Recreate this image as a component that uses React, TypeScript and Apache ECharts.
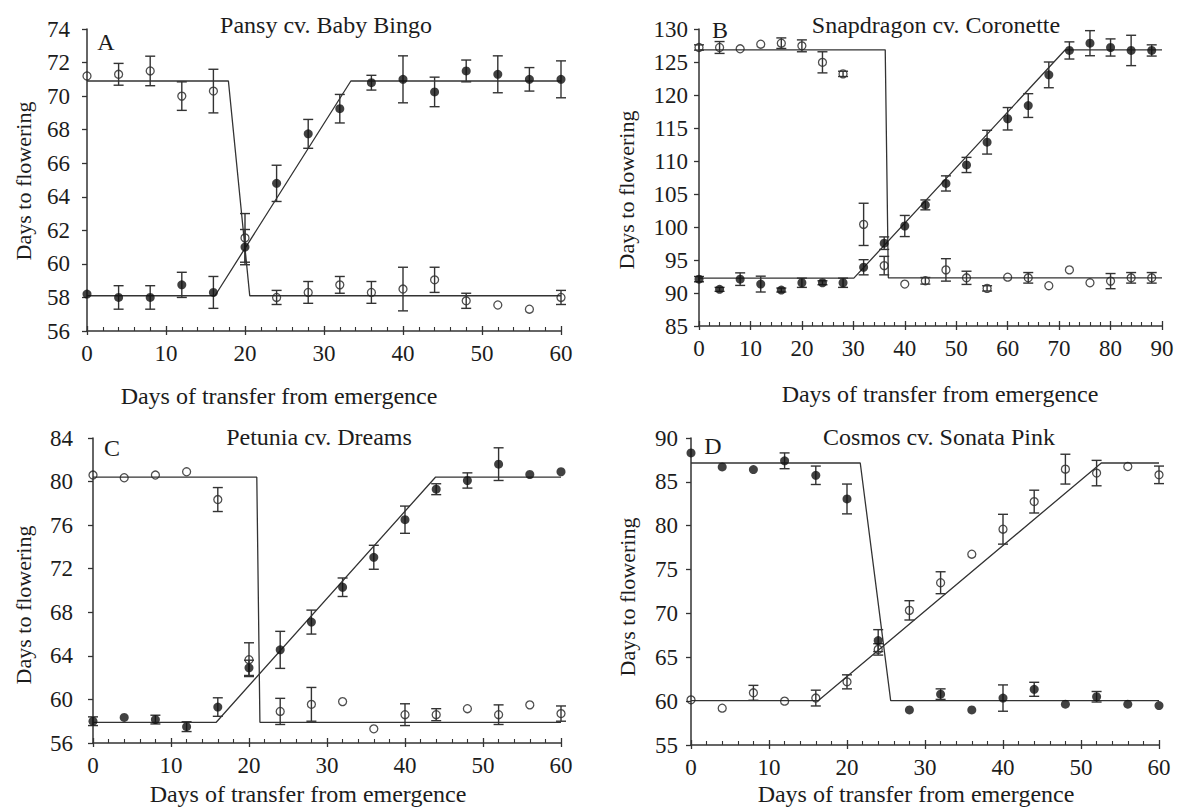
import React, { useEffect, useRef } from "react";
import * as echarts from "echarts";

// ---------- Data ----------
const days60 = [0, 4, 8, 12, 16, 20, 24, 28, 32, 36, 40, 44, 48, 52, 56, 60];
const days90 = [0, 4, 8, 12, 16, 20, 24, 28, 32, 36, 40, 44, 48, 52, 56, 60, 64, 68, 72, 76, 80, 84, 88];

// Panel A - Pansy cv. Baby Bingo
const aOpen = [71.2, 71.3, 71.5, 70.0, 70.3, 61.55, 58.0, 58.3, 58.75, 58.3, 58.5, 59.05, 57.8, 57.55, 57.3, 58.0];
const aOpenErr = [null, 0.65, 0.88, 0.85, 1.3, 1.45, 0.42, 0.65, 0.5, 0.65, 1.3, 0.75, 0.45, null, null, 0.42];
const aFilled = [58.2, 58.0, 58.0, 58.75, 58.3, 61.0, 64.8, 67.75, 69.25, 70.8, 71.0, 70.25, 71.5, 71.3, 71.0, 71.0];
const aFilledErr = [null, 0.7, 0.7, 0.75, 0.95, 1.05, 1.08, 0.86, 0.85, 0.44, 1.4, 0.88, 0.65, 1.1, 0.7, 1.1];
const aOpenFit = [[0, 70.9], [17.9, 70.9], [20.6, 58.1], [60, 58.1]];
const aFilledFit = [[0, 58.1], [16.2, 58.1], [33.4, 70.9], [60, 70.9]];

// Panel B - Snapdragon cv. Coronette
const bOpen = [127.2, 127.2, 127.0, 127.7, 127.85, 127.45, 124.95, 123.2, 100.4, 94.15, 91.35, 91.85, 93.5, 92.3, 90.7, 92.4, 92.3, 91.1, 93.5, 91.55, 91.8, 92.3, 92.3];
const bOpenErr = [0.4, 0.9, null, null, 0.8, 0.9, 1.6, 0.4, 3.2, 1.4, null, 0.5, 1.7, 1.0, 0.4, null, 0.8, null, null, null, 1.15, 0.8, 0.8];
const bFilled = [92.1, 90.55, 92.1, 91.35, 90.45, 91.55, 91.55, 91.55, 93.9, 97.55, 100.15, 103.35, 106.6, 109.4, 112.85, 116.4, 118.4, 123.05, 126.75, 127.85, 127.2, 126.75, 126.75];
const bFilledErr = [0.4, 0.3, 0.95, 1.2, 0.3, 0.7, 0.3, 0.7, 1.15, 0.95, 1.6, 0.75, 1.15, 1.15, 1.8, 1.7, 1.8, 1.95, 1.3, 1.9, 1.3, 2.3, 0.85];
const bOpenFit = [[0, 126.85], [36.2, 126.85], [36.8, 92.3], [90, 92.3]];
const bFilledFit = [[0, 92.25], [30.1, 92.25], [71.2, 126.85], [90, 126.85]];

// Panel C - Petunia cv. Dreams
const cOpen = [80.6, 80.35, 80.6, 80.9, 78.35, 63.65, 58.9, 59.55, 59.8, 57.3, 58.6, 58.6, 59.15, 58.6, 59.5, 58.7];
const cOpenErr = [null, null, null, null, 1.1, 1.55, 1.2, 1.55, null, null, 1.0, 0.55, null, 0.9, null, 0.7];
const cFilled = [58.0, 58.35, 58.15, 57.5, 59.3, 62.9, 64.55, 67.1, 70.3, 73.05, 76.5, 79.3, 80.1, 81.6, 80.65, 80.9];
const cFilledErr = [0.4, null, 0.4, 0.45, 0.85, 0.7, 1.7, 1.1, 0.85, 1.1, 1.25, 0.5, 0.7, 1.5, null, null];
const cOpenFit = [[0, 80.4], [21.0, 80.4], [21.4, 57.9], [60, 57.9]];
const cFilledFit = [[0, 57.9], [15.8, 57.9], [43.9, 80.4], [60, 80.4]];

// Panel D - Cosmos cv. Sonata Pink
const dOpen = [60.15, 59.2, 60.95, 60.0, 60.35, 62.2, 65.9, 70.35, 73.5, 76.75, 79.6, 82.75, 86.45, 86.0, 86.75, 85.8];
const dOpenErr = [null, null, 0.85, null, 0.9, 0.8, 0.65, 1.1, 1.25, null, 1.7, 1.3, 1.7, 1.45, null, 1.0];
const dFilled = [88.3, 86.7, 86.4, 87.4, 85.75, 83.05, 66.9, 59.0, 60.8, 59.0, 60.35, 61.35, 59.65, 60.5, 59.65, 59.5];
const dFilledErr = [null, null, null, 0.9, 1.05, 1.7, 1.25, null, 0.6, null, 1.5, 0.8, null, 0.6, null, null];
const dOpenFit = [[0, 60.05], [16.3, 60.05], [52.6, 87.15], [60, 87.15]];
const dFilledFit = [[0, 87.15], [21.7, 87.15], [25.6, 60.05], [60, 60.05]];

const titles = ["Pansy cv. Baby Bingo", "Snapdragon cv. Coronette", "Petunia cv. Dreams", "Cosmos cv. Sonata Pink"];
const letters = ["A", "B", "C", "D"];
const yTitle = "Days to flowering";
const xTitle = "Days of transfer from emergence";

// ---------- Layout / style ----------
const FONT = "'Liberation Serif', 'Times New Roman', serif";
const INK = "#1c1c1c";
const LINE = "#333333";

const panels = [
  {
    days: days60, open: aOpen, openErr: aOpenErr, filled: aFilled, filledErr: aFilledErr,
    openFit: aOpenFit, filledFit: aFilledFit,
    xMax: 60, yMin: 56, yMax: 74, yStep: 2, labelMargin: 17,
    grid: { left: 87, top: 29, width: 474, height: 302 },
    titlePos: [326, 25], letterPos: [106, 42], yTitlePos: [23, 181], xTitlePos: [279, 396],
  },
  {
    days: days90, open: bOpen, openErr: bOpenErr, filled: bFilled, filledErr: bFilledErr,
    openFit: bOpenFit, filledFit: bFilledFit,
    xMax: 90, yMin: 85, yMax: 130, yStep: 5, labelMargin: 11,
    grid: { left: 699, top: 29, width: 463, height: 297 },
    titlePos: [936, 25], letterPos: [720, 30], yTitlePos: [626, 190], xTitlePos: [940, 394],
  },
  {
    days: days60, open: cOpen, openErr: cOpenErr, filled: cFilled, filledErr: cFilledErr,
    openFit: cOpenFit, filledFit: cFilledFit,
    xMax: 60, yMin: 56, yMax: 84, yStep: 4, labelMargin: 20,
    grid: { left: 93, top: 438, width: 468, height: 305 },
    titlePos: [319, 437], letterPos: [112, 448], yTitlePos: [23, 605], xTitlePos: [308, 794],
  },
  {
    days: days60, open: dOpen, openErr: dOpenErr, filled: dFilled, filledErr: dFilledErr,
    openFit: dOpenFit, filledFit: dFilledFit,
    xMax: 60, yMin: 55, yMax: 90, yStep: 5, labelMargin: 13,
    grid: { left: 691, top: 438, width: 468, height: 307 },
    titlePos: [939, 437], letterPos: [713, 446], yTitlePos: [627, 597], xTitlePos: [916, 794],
  },
];

function errRender(params: any, api: any) {
  const x = api.value(0);
  const y = api.value(1);
  const e = api.value(2);
  const p1 = api.coord([x, y + e]);
  const p2 = api.coord([x, y - e]);
  const w = 5;
  const style = { stroke: LINE, lineWidth: 1.4 };
  return {
    type: "group",
    children: [
      { type: "line", shape: { x1: p1[0], y1: p1[1], x2: p2[0], y2: p2[1] }, style },
      { type: "line", shape: { x1: p1[0] - w, y1: p1[1], x2: p1[0] + w, y2: p1[1] }, style },
      { type: "line", shape: { x1: p2[0] - w, y1: p2[1], x2: p2[0] + w, y2: p2[1] }, style },
    ],
  };
}

function pairs(xs: number[], ys: number[]) {
  return xs.map((x, i) => [x, ys[i]]);
}
function errTriples(xs: number[], ys: number[], es: (number | null)[]) {
  const out: number[][] = [];
  xs.forEach((x, i) => {
    const e = es[i];
    if (e !== null && e !== undefined) out.push([x, ys[i], e]);
  });
  return out;
}

function buildOption() {
  const grid: any[] = [];
  const xAxis: any[] = [];
  const yAxis: any[] = [];
  const series: any[] = [];
  const graphic: any[] = [];

  panels.forEach((p, i) => {
    grid.push({ ...p.grid });
    xAxis.push({
      type: "value", gridIndex: i, min: 0, max: p.xMax, interval: 10,
      axisLine: { show: true, onZero: false, lineStyle: { color: LINE, width: 1.5 } },
      axisTick: { show: true, inside: true, length: 5, lineStyle: { color: LINE, width: 1.3 } },
      minorTick: { show: true, splitNumber: 5, length: 4, lineStyle: { color: LINE, width: 1.1 } },
      axisLabel: { show: true, margin: 11, fontFamily: FONT, fontSize: 23, color: INK },
      splitLine: { show: false },
      minorSplitLine: { show: false },
    });
    yAxis.push({
      type: "value", gridIndex: i, min: p.yMin, max: p.yMax, interval: p.yStep,
      axisLine: { show: true, onZero: false, lineStyle: { color: LINE, width: 1.5 } },
      axisTick: { show: true, inside: false, length: 5, lineStyle: { color: LINE, width: 1.3 } },
      axisLabel: { show: true, margin: p.labelMargin, fontFamily: FONT, fontSize: 23, color: INK },
      splitLine: { show: false },
    });
  });
  panels.forEach((p, i) => {
    xAxis.push({
      type: "value", gridIndex: i, min: 0, max: p.xMax, interval: 10, position: "bottom",
      axisLine: { show: false },
      axisTick: { show: true, inside: false, length: 4, lineStyle: { color: LINE, width: 1.3 } },
      axisLabel: { show: false },
      splitLine: { show: false },
    });
  });

  panels.forEach((p, i) => {
    series.push({
      type: "line", xAxisIndex: i, yAxisIndex: i, data: p.openFit, symbol: "none",
      lineStyle: { color: LINE, width: 1.3 }, z: 2, silent: true,
    });
    series.push({
      type: "line", xAxisIndex: i, yAxisIndex: i, data: p.filledFit, symbol: "none",
      lineStyle: { color: LINE, width: 1.3 }, z: 2, silent: true,
    });
    series.push({
      type: "scatter", xAxisIndex: i, yAxisIndex: i, data: pairs(p.days, p.open),
      symbol: "circle", symbolSize: 8,
      itemStyle: { color: "rgba(255,255,255,0)", borderColor: "#222", borderWidth: 1.3 }, z: 3,
    });
    series.push({
      type: "custom", xAxisIndex: i, yAxisIndex: i, renderItem: errRender,
      data: errTriples(p.days, p.open, p.openErr), z: 4, silent: true,
    });
    series.push({
      type: "custom", xAxisIndex: i, yAxisIndex: i, renderItem: errRender,
      data: errTriples(p.days, p.filled, p.filledErr), z: 4, silent: true,
    });
    series.push({
      type: "scatter", xAxisIndex: i, yAxisIndex: i, data: pairs(p.days, p.filled),
      symbol: "circle", symbolSize: 9, itemStyle: { color: "#111" }, z: 5,
    });

    const txt = (text: string, pos: number[], size: number, rot = 0) => ({
      type: "text", x: pos[0], y: pos[1], rotation: rot, z: 10,
      style: {
        text, fontFamily: FONT, fontSize: size, fill: INK,
        textAlign: "center", textVerticalAlign: "middle", align: "center", verticalAlign: "middle",
      },
    });
    graphic.push(txt(titles[i], p.titlePos, 24));
    graphic.push(txt(letters[i], p.letterPos, 24));
    graphic.push(txt(yTitle, p.yTitlePos, 22, Math.PI / 2));
    graphic.push(txt(xTitle, p.xTitlePos, 24));
  });

  return { animation: false, backgroundColor: "#ffffff", grid, xAxis, yAxis, series, graphic };
}

export default function App() {
  const ref = useRef<HTMLDivElement>(null);
  useEffect(() => {
    if (!ref.current) return;
    const chart = echarts.init(ref.current, undefined, { renderer: "svg" });
    chart.setOption(buildOption() as any);
    return () => chart.dispose();
  }, []);
  return (
    <div
      ref={ref}
      style={{ position: "absolute", left: 0, top: 0, width: 1177, height: 809, background: "#fff" }}
    />
  );
}
